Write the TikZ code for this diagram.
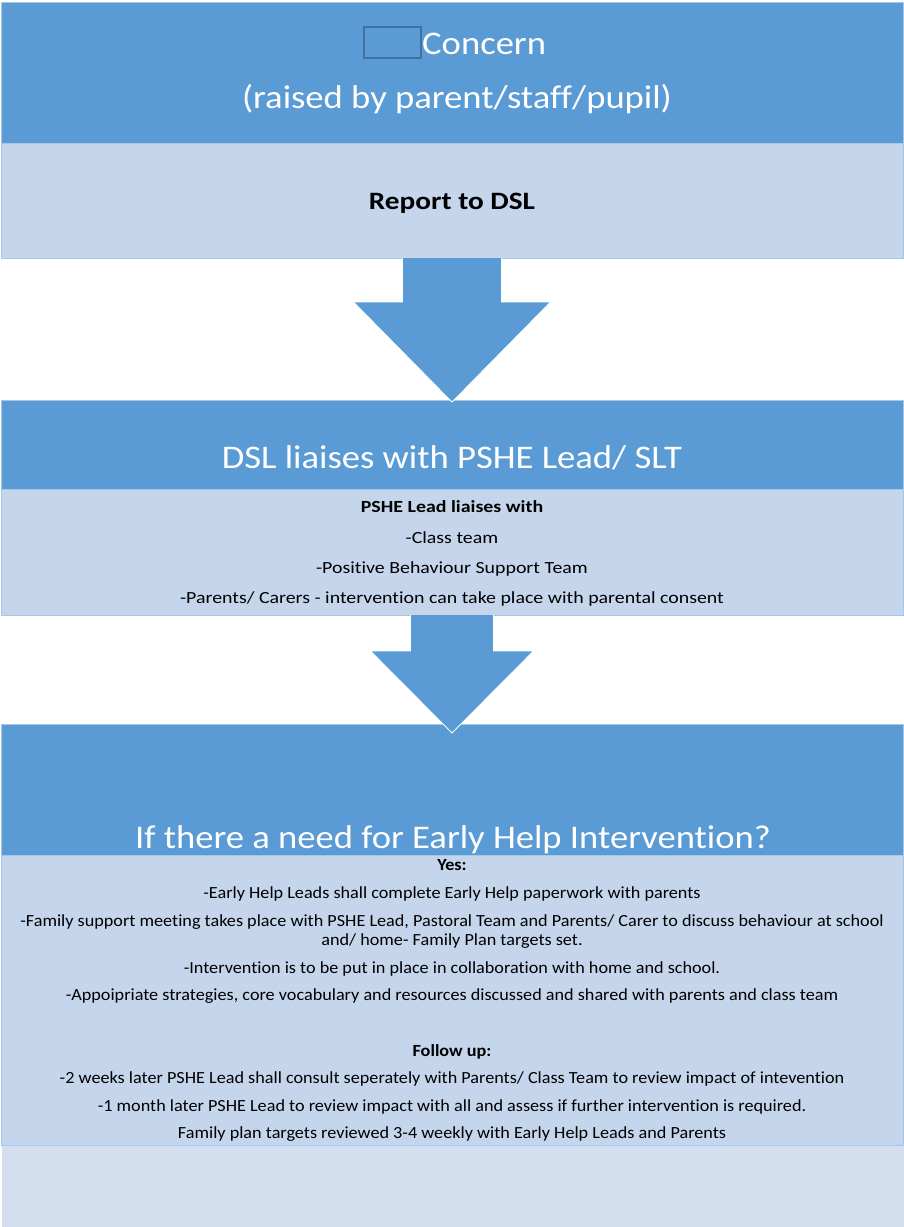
\documentclass[tikz,border=0pt]{standalone}
\usepackage{fontspec}
\defaultfontfeatures{Ligatures=NoCommon, Contextuals=NoAlternate, RawFeature=-clig}
\setmainfont{Carlito}
\newfontfamily\headfont[FakeStretch=1.11]{Carlito}
\newfontfamily\bodyfont[FakeStretch=1.17]{Carlito}
\newfontfamily\planfont[FakeStretch=1.07]{Carlito}
\usetikzlibrary{calc}

\definecolor{darkband}{HTML}{5B9BD5}
\definecolor{lightband}{HTML}{C5D6EC}
\definecolor{paleband}{HTML}{D3DFEE}
\definecolor{iconline}{HTML}{41719C}

\tikzset{
  band/.style={anchor=north west, minimum width=902pt, inner sep=0pt, outer sep=0pt, draw=white!45!darkband, line width=0.6pt},
  headband/.style={band, fill=darkband},
  bodyband/.style={band, fill=lightband},
  headtext/.style={anchor=base, inner sep=0pt, text=white, font=\headfont\fontsize{33}{40}\selectfont},
  bodytext/.style={anchor=base, inner sep=0pt, align=center, font=\bodyfont\fontsize{17}{19}\selectfont},
  plantext/.style={anchor=base, inner sep=0pt, align=center, font=\planfont\fontsize{17}{19}\selectfont},
  bigarrow/.style={fill=darkband, draw=white, line width=0.8pt, line join=miter},
}

\begin{document}
\begin{tikzpicture}[x=1pt, y=-1pt]
\useasboundingbox (0,0) rectangle (904,1227);
\fill[white] (0,0) rectangle (904,1227);

% the bands, top to bottom
\node[headband, minimum height=141pt] (concern) at (1,2) {};
\node[bodyband, minimum height=115pt] (report) at (1,143) {};
\node[headband, minimum height=89pt] (dsl) at (1,400) {};
\node[bodyband, minimum height=126pt] (pshe) at (1,489) {};
\node[headband, minimum height=131pt] (need) at (1,724) {};
\node[bodyband, minimum height=290pt] (plan) at (1,855) {};
\node[band, fill=paleband, draw=none, minimum height=81pt] (tail) at (2,1146) {};

% block arrows
\draw[bigarrow] ($(report.south)+(-49.5,0)$) -- ++(0,44) -- ++(-49,0)
  -- ($(dsl.north)+(0,2)$) -- ($(report.south)+(98.5,44)$) -- ++(-49,0) -- ++(0,-44);
\draw[bigarrow] ($(pshe.south)+(-41.5,0)$) -- ++(0,36) -- ++(-40,0)
  -- ($(need.north)+(0,9)$) -- ($(pshe.south)+(81.5,36)$) -- ++(-40,0) -- ++(0,-36);

% texts
\node[draw=iconline, line width=2pt, fill=darkband, minimum width=57pt, minimum height=31pt, inner sep=0pt, anchor=north west] (icon) at (363,26) {};
\node[headtext, anchor=base west] (concerntxt) at (422,54) {Concern};
\node[headtext] (raised) at (457,108) {(raised by parent/staff/pupil)};
\node[bodytext, font=\bodyfont\fontsize{25}{30}\selectfont\bfseries] (reporttxt) at (452,209) {Report to DSL};

\node[headtext] (dsltxt) at (452,468) {DSL liaises with PSHE Lead/ SLT};
\node[bodytext, font=\bodyfont\fontsize{17}{19}\selectfont\bfseries] (pshehead) at (452,512) {PSHE Lead liaises with};
\node[bodytext] (class) at (452,543) {-Class team};
\node[bodytext] (pbs) at (452,573) {-Positive Behaviour Support Team};
\node[bodytext] (parents) at (452,603) {-Parents/ Carers - intervention can take place with parental consent};

\node[headtext] (needtxt) at (453,848) {If there a need for Early Help Intervention?};
\node[plantext, font=\planfont\fontsize{17}{19}\selectfont\bfseries] (yes) at (452,870) {Yes:};
\node[plantext] (paperwork) at (452,898) {-Early Help Leads shall complete Early Help paperwork with parents};
\node[plantext, anchor=north] (meeting) at (452,914) {-Family support meeting takes place with PSHE Lead, Pastoral Team and Parents/ Carer to discuss behaviour at school\\and/ home- Family Plan targets set.};
\node[plantext] (collab) at (452,973) {-Intervention is to be put in place in collaboration with home and school.};
\node[plantext] (vocab) at (452,1000) {-Appoipriate strategies, core vocabulary and resources discussed and shared with parents and class team};
\node[plantext, font=\planfont\fontsize{17}{19}\selectfont\bfseries] (followup) at (452,1056) {Follow up:};
\node[plantext] (weeks) at (452,1083) {-2 weeks later PSHE Lead shall consult seperately\ with Parents/ Class Team to review impact of intevention};
\node[plantext] (month) at (452,1111) {-1 month later PSHE Lead to review impact with all and assess\ if further intervention is required.};
\node[plantext] (targets) at (452,1138) {Family plan targets reviewed\ 3-4 weekly with Early Help Leads and Parents};
\end{tikzpicture}
\end{document}
